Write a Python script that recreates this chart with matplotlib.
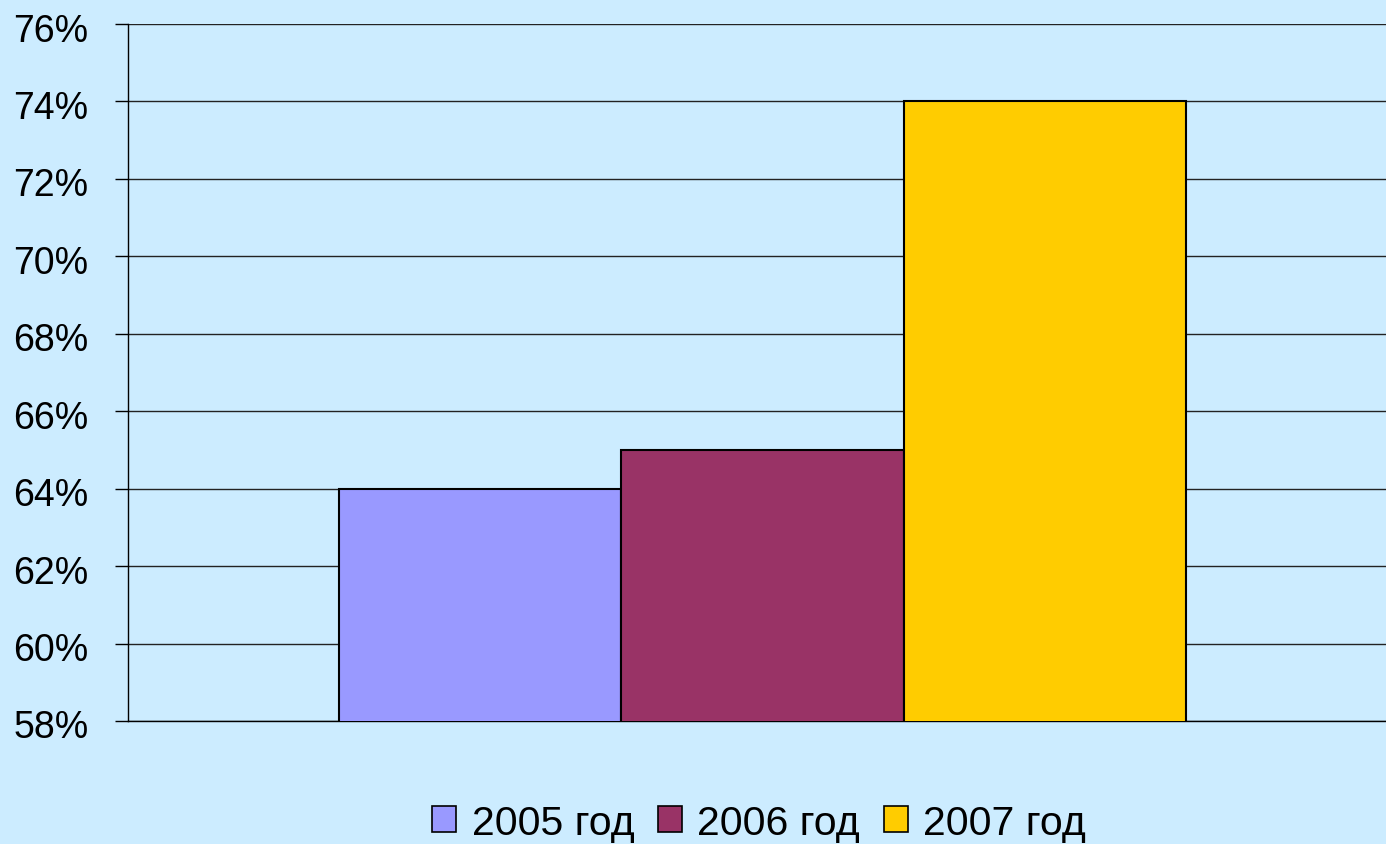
import matplotlib.pyplot as plt
import matplotlib.transforms as mtransforms
import numpy as np
from matplotlib.ticker import FuncFormatter

# share per year, percent
years = ['2005 год', '2006 год', '2007 год']
shares = [64, 65, 74]
colors = ['#9999FF', '#993366', '#FFCC00']
y_ticks = list(range(58, 77, 2))

bg = '#CCECFF'
plt.rcParams['font.family'] = ['Liberation Sans', 'DejaVu Sans']

fig = plt.figure(figsize=(13.86, 8.45), dpi=100, facecolor=bg)
ax = fig.add_axes([0.0924, 0.1456, 0.9076, 0.8248], facecolor=bg)

pos = np.arange(len(years)) - 1
ax.bar(pos, shares, width=1.0, bottom=0, color=colors,
       edgecolor='black', linewidth=1.5, zorder=3)

ax.set_ylim(58, 76)
ax.set_xlim(-2.248, 2.209)
ax.set_yticks(y_ticks)
ax.yaxis.set_major_formatter(FuncFormatter(lambda v, _: f'{v:.0f}%'))
ax.tick_params(axis='y', length=9.5, width=1, direction='out', pad=19,
               labelsize=27, colors='black')
ax.set_xticks([])
ax.yaxis.grid(True, color='#222222', linewidth=1)
ax.set_axisbelow(True)

# nudge the percent labels a little down
shift = mtransforms.ScaledTranslation(0, -0.025, fig.dpi_scale_trans)
for lab in ax.get_yticklabels():
    lab.set_transform(lab.get_transform() + shift)

for s in ['top', 'right']:
    ax.spines[s].set_visible(False)
ax.spines['left'].set_linewidth(1)
ax.spines['bottom'].set_linewidth(1)

handles = [plt.Rectangle((0, 0), 1, 1, facecolor=c, edgecolor='black', linewidth=1.2)
           for c in colors]
fig.legend(handles, years, loc='center', bbox_to_anchor=(0.5476, 0.025),
           ncol=3, frameon=False, fontsize=29.5, handlelength=0.6,
           handleheight=0.6, handletextpad=0.37, columnspacing=0.57,
           borderpad=0, borderaxespad=0)

fig.savefig('out.png', dpi=100, facecolor=bg)
